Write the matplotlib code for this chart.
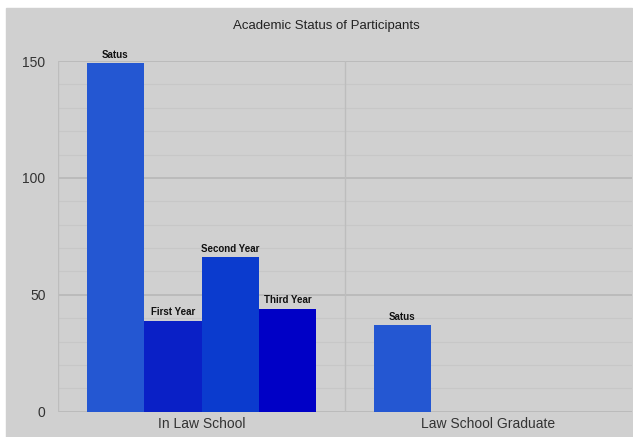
import numpy as np
import matplotlib.pyplot as plt
from matplotlib.patches import Rectangle

plt.rcParams['font.family'] = ['Liberation Sans', 'DejaVu Sans']

# Data
categories = ["In Law School", "Law School Graduate"]
series_names = ["Satus", "First Year", "Second Year", "Third Year"]
satus = [149, 37]
first_year = [39, None]
second_year = [66, None]
third_year = [44, None]
colors = ["#2457d2", "#0a20c6", "#0b3bce", "#0000c6"]

fig = plt.figure(figsize=(6.33, 4.37), dpi=100)
fig.patch.set_facecolor("white")
# grey panel behind the whole chart
fig.patches.append(Rectangle((6 / 633, 0), 626 / 633, 429 / 437,
                             transform=fig.transFigure, color="#d0d0d0", zorder=-10))

ax = fig.add_axes([58 / 633, 25.3 / 437, 574 / 633, 350.7 / 437])
ax.set_facecolor("#d0d0d0")
ax.patch.set_alpha(0)

x = np.arange(len(categories))
width = 0.2
all_series = [satus, first_year, second_year, third_year]
for i, (name, vals, col) in enumerate(zip(series_names, all_series, colors)):
    offset = (i - 1.5) * width
    for xi, v in zip(x, vals):
        if v is None:
            continue
        ax.bar(xi + offset, v, width, color=col, zorder=3)
        ax.text(xi + offset, v + 1.5, name, ha="center", va="bottom",
                fontsize=7, fontweight="bold", color="#111111", zorder=4)

ax.set_xlim(-0.5, 1.5)
ax.set_ylim(0, 150)

# horizontal grid: major every 50, minor every 10
for yv in range(0, 151, 10):
    major = yv % 50 == 0
    ax.axhline(yv, color="#b9b9b9" if major else "#c7c7c7",
               lw=1.3 if major else 0.8, zorder=1)
# vertical lines at the axis and between the categories
for xv in [-0.5, 0.5]:
    ax.axvline(xv, color="#bdbdbd", lw=1, zorder=1)

for s in ax.spines.values():
    s.set_visible(False)

ax.set_yticks([0, 50, 100, 150])
ax.set_xticks(x)
ax.set_xticklabels(categories)
ax.tick_params(axis="both", length=0, labelsize=10, colors="#333333")
ax.tick_params(axis="y", pad=9)
ax.tick_params(axis="x", pad=4)

fig.text(326 / 633, 1 - 26 / 437, "Academic Status of Participants",
         ha="center", va="center", fontsize=9.5, color="#222222")

fig.savefig("out.png", dpi=100)
